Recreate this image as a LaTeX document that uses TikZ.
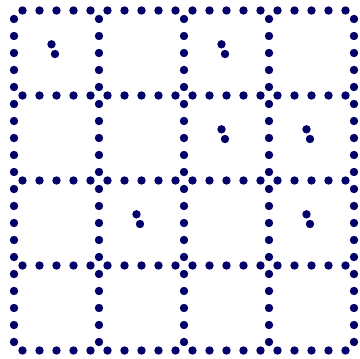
\documentclass[tikz,border=0pt]{standalone}
\definecolor{dotnavy}{RGB}{0,0,104}
\tikzset{dot/.style={fill=dotnavy}}
\begin{document}
\begin{tikzpicture}[x=1pt,y=-1pt]
\useasboundingbox (0,0) rectangle (360,359);
\def\gx{14}\def\gy{10.5}\def\gs{85}
% horizontal edges
\foreach \j in {0,...,4}{
  \foreach \i in {0,...,3}{
    \foreach \t in {0.1,0.3,0.5,0.7,0.9}{
      \fill[dot] ({\gx+(\i+\t)*\gs},{\gy+\j*\gs}) circle (4.2);
    }
  }
}
% vertical edges
\foreach \i in {0,...,4}{
  \foreach \j in {0,...,3}{
    \foreach \t in {0.1,0.3,0.5,0.7,0.9}{
      \fill[dot] ({\gx+\i*\gs},{\gy+(\j+\t)*\gs}) circle (4.2);
    }
  }
}
% interior pairs
\foreach \c/\r in {0/0,2/0,2/1,3/1,1/2,3/2}{
  \fill[dot] ({\gx+(\c+0.5)*\gs-5},{\gy+(\r+0.5)*\gs-8.7}) circle (4.2);
  \fill[dot] ({\gx+(\c+0.5)*\gs-1.5},{\gy+(\r+0.5)*\gs+1}) circle (4.2);
}
\end{tikzpicture}
\end{document}
